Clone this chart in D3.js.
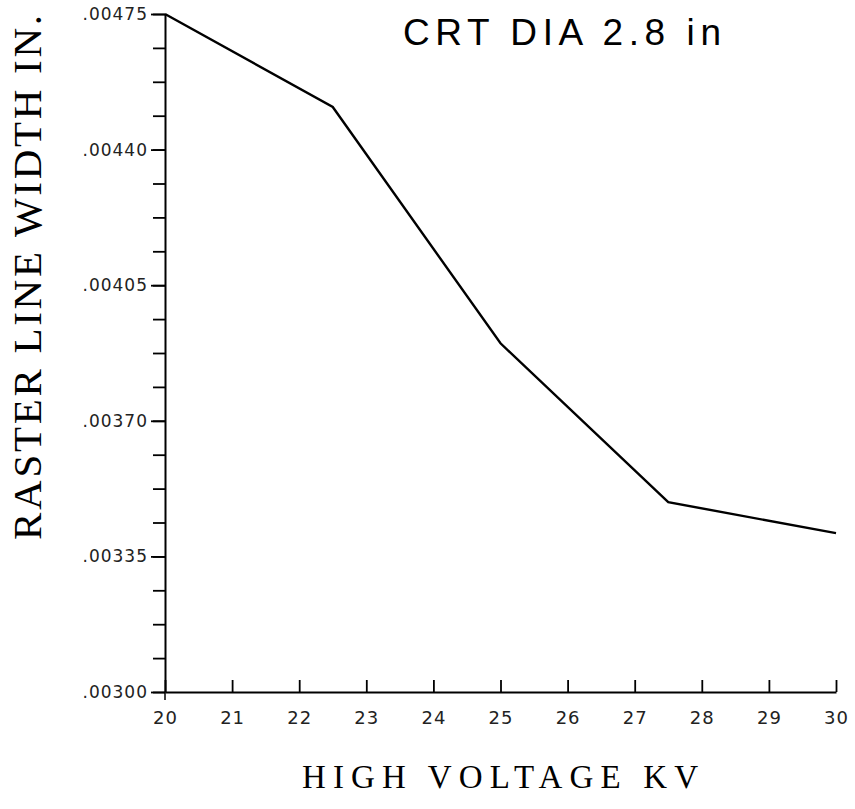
<!DOCTYPE html>
<html>
<head>
<meta charset="utf-8">
<script src="https://cdn.jsdelivr.net/npm/d3@7"></script>
<style>
  body { margin: 0; background: #fff; }
  svg { display: block; }
</style>
</head>
<body>
<div id="chart"></div>
<script>
// CRT raster line width vs high voltage
var voltage = [20, 22.5, 25, 27.5, 30]
var lineWidth = [0.00475, 0.00451, 0.00390, 0.00349, 0.00341]

var xTicks = [20, 21, 22, 23, 24, 25, 26, 27, 28, 29, 30]
var xTickLabels = ["20", "21", "22", "23", "24", "25", "26", "27", "28", "29", "30"]
var yTicks = [0.00300, 0.00335, 0.00370, 0.00405, 0.00440, 0.00475]
var yTickLabels = [".00300", ".00335", ".00370", ".00405", ".00440", ".00475"]

var width = 855, height = 809
var plot = {left: 165, right: 836, top: 14, bottom: 692}

var x = d3.scaleLinear().domain([20, 30]).range([plot.left, plot.right])
var y = d3.scaleLinear().domain([0.003, 0.00475]).range([plot.bottom, plot.top])

var svg = d3.select('#chart').append('svg')
	.attr('width', width)
	.attr('height', height)

// minor ticks, 4 per labelled interval
var yMinor = d3.range(0.003, 0.00475 + 1e-9, 0.0000875)

svg.append('g')
	.attr('transform', 'translate(' + plot.left + ',0)')
	.call(d3.axisLeft(y).tickValues(yMinor).tickSize(12).tickSizeOuter(0).tickFormat(''))
	.call(function (g) { g.select('.domain').remove() })
	.selectAll('line').attr('stroke', '#000').attr('stroke-width', 1.8)

var yAxis = svg.append('g')
	.attr('transform', 'translate(' + plot.left + ',0)')
	.call(d3.axisLeft(y).tickValues(yTicks).tickSize(14).tickSizeOuter(0)
		.tickPadding(3)
		.tickFormat(function (d, i) { return yTickLabels[i] }))
yAxis.select('.domain').attr('stroke', '#000').attr('stroke-width', 2)
yAxis.selectAll('line').attr('stroke', '#000').attr('stroke-width', 1.8)
yAxis.selectAll('text')
	.style('font-family', 'DejaVu Sans, sans-serif')
	.style('font-size', '17px')
	.style('letter-spacing', '1px')
	.attr('fill', '#222')

// y axis line extends a bit below the x axis
svg.append('line')
	.attr('x1', plot.left).attr('x2', plot.left)
	.attr('y1', plot.bottom).attr('y2', plot.bottom + 8)
	.attr('stroke', '#000').attr('stroke-width', 1.5)

var xAxis = svg.append('g')
	.attr('transform', 'translate(0,' + plot.bottom + ')')
	.call(d3.axisBottom(x).tickValues(xTicks).tickSize(-12).tickSizeOuter(0)
		.tickPadding(19)
		.tickFormat(function (d, i) { return xTickLabels[i] }))
xAxis.select('.domain').attr('stroke', '#000').attr('stroke-width', 2)
xAxis.selectAll('line').attr('stroke', '#000').attr('stroke-width', 1.8)
xAxis.selectAll('text')
	.style('font-family', 'DejaVu Sans, sans-serif')
	.style('font-size', '18px')
	.style('letter-spacing', '1px')
	.attr('fill', '#222')

var line = d3.line()
	.x(function (d, i) { return x(voltage[i]) })
	.y(function (d) { return y(d) })

svg.append('path')
	.datum(lineWidth)
	.attr('d', line)
	.attr('fill', 'none')
	.attr('stroke', '#000')
	.attr('stroke-width', 2.4)

// titles
svg.append('text')
	.attr('x', 403).attr('y', 45)
	.attr('textLength', 318)
	.attr('lengthAdjust', 'spacing')
	.style('font-family', 'Liberation Sans, sans-serif')
	.style('font-size', '37px')
	.text('CRT DIA 2.8 in')

svg.append('text')
	.attr('x', 302).attr('y', 788)
	.attr('textLength', 396)
	.attr('lengthAdjust', 'spacing')
	.style('font-family', 'Liberation Serif, serif')
	.style('font-size', '33px')
	.text('HIGH VOLTAGE KV')

svg.append('text')
	.attr('transform', 'translate(41,540) rotate(-90)')
	.attr('textLength', 525)
	.attr('lengthAdjust', 'spacing')
	.style('font-family', 'Liberation Serif, serif')
	.style('font-size', '41px')
	.text('RASTER LINE WIDTH IN.')
</script>
</body>
</html>
